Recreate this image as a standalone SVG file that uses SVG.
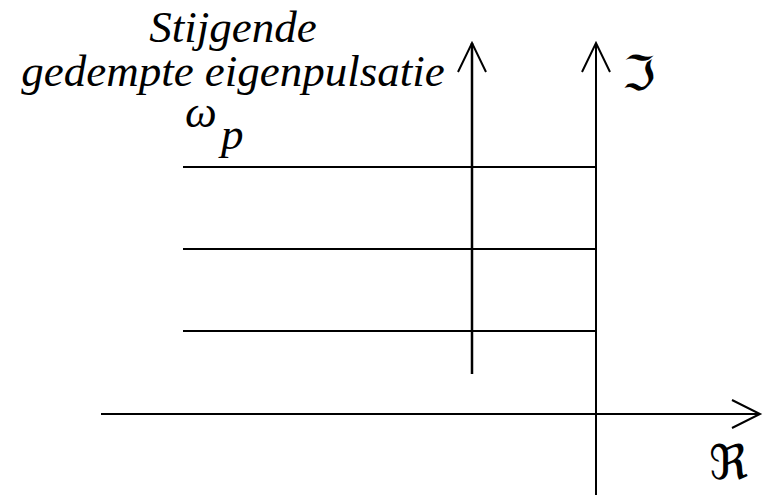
<svg xmlns="http://www.w3.org/2000/svg" width="767" height="495" viewBox="0 0 767 495">
<rect width="767" height="495" fill="#fff"/>
<g id="axes" stroke="#000" stroke-width="2" fill="none">
<line x1="101" y1="414" x2="760" y2="414"/>
<polyline points="732,400 760,414 732,428"/>
<line x1="596" y1="43" x2="596" y2="495"/>
<polyline points="582,72 596,43 610,72"/>
<line x1="472" y1="43" x2="472" y2="374" stroke-width="2.5"/>
<polyline points="458,72 472,43 486,72"/>
<line x1="183" y1="167" x2="596" y2="167"/>
<line x1="183" y1="249" x2="596" y2="249"/>
<line x1="183" y1="331" x2="596" y2="331"/>
</g>
<text x="233" y="42" text-anchor="middle" font-family="Liberation Serif" font-style="italic" font-size="45">Stijgende</text>
<text x="233" y="86" text-anchor="middle" font-family="Liberation Serif" font-style="italic" font-size="45">gedempte eigenpulsatie</text>
<text x="185" y="127" font-family="Liberation Serif" font-style="italic" font-size="45">ω</text>
<text x="221" y="149" font-family="Liberation Serif" font-style="italic" font-size="45">p</text>
<text x="622" y="90" font-family="DejaVu Sans" font-size="48">ℑ</text>
<text x="709" y="479" font-family="DejaVu Sans" font-size="48">ℜ</text>
</svg>
